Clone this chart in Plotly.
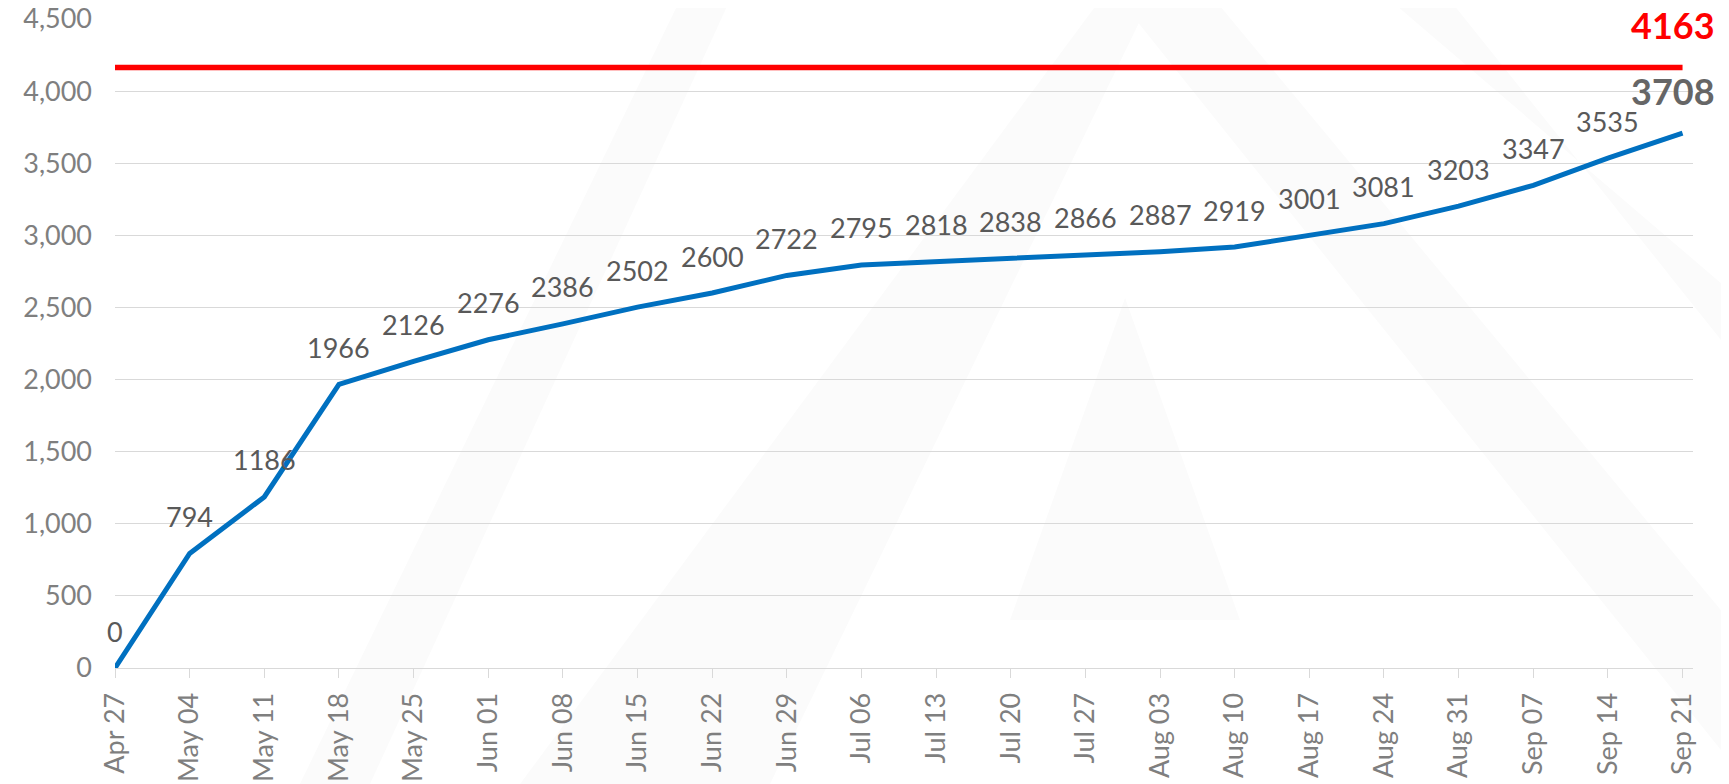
import plotly.graph_objects as go

weeks = ["Apr 27", "May 04", "May 11", "May 18", "May 25", "Jun 01", "Jun 08",
         "Jun 15", "Jun 22", "Jun 29", "Jul 06", "Jul 13", "Jul 20", "Jul 27",
         "Aug 03", "Aug 10", "Aug 17", "Aug 24", "Aug 31", "Sep 07", "Sep 14",
         "Sep 21"]
cumulative = [0, 794, 1186, 1966, 2126, 2276, 2386, 2502, 2600, 2722, 2795,
              2818, 2838, 2866, 2887, 2919, 3001, 3081, 3203, 3347, 3535, 3708]
target = 4163
y_ticks = [0, 500, 1000, 1500, 2000, 2500, 3000, 3500, 4000, 4500]

# the page body adds an 8px offset; figure sized so it ends at the window edge
OFF = 8
W, H = 1729 - OFF, 784 - OFF
L, R, T, B = 115 - OFF, 36, 19 - OFF, 116
FONT = "Lato, 'Open Sans', sans-serif"

fig = go.Figure()

# faint background watermark (decoration), given in window pixels
def px2paper(pts):
    pw = W - L - R
    ph = H - T - B
    path = ""
    for i, (x, y) in enumerate(pts):
        xp = (x - OFF - L) / pw
        yp = (H - B - (y - OFF)) / ph
        path += ("M" if i == 0 else "L") + f"{xp:.4f},{yp:.4f} "
    return path + "Z"

wm_polys = [
    [(300, 784), (370, 784), (730, 0), (680, 0)],
    [(520, 784), (770, 784), (1150, 0), (1100, 0)],
    [(1120, 0), (1215, 0), (1729, 620), (1729, 760)],
    [(1390, 0), (1450, 0), (1729, 350), (1729, 290)],
    [(1125, 298), (1010, 620), (1240, 620)],
]
for poly in wm_polys:
    fig.add_shape(type="path", path=px2paper(poly), xref="paper", yref="paper",
                  fillcolor="#fbfbfb", line=dict(width=0), layer="below")

fig.add_trace(go.Scatter(
    x=weeks, y=cumulative, mode="lines",
    line=dict(color="#0070c0", width=5), showlegend=False))

fig.add_trace(go.Scatter(
    x=[weeks[0], weeks[-1]], y=[target, target], mode="lines",
    line=dict(color="#ff0000", width=5.5), hoverinfo="skip", showlegend=False))

for i, (w, v) in enumerate(zip(weeks, cumulative)):
    last = i == len(weeks) - 1
    fig.add_annotation(
        x=w, y=v, text=f"<b>{v}</b>" if last else str(v), showarrow=False,
        yshift=42 if last else 37, xshift=-10 if last else 0, yanchor="middle",
        font=dict(family=FONT, size=36 if last else 27,
                  color="#666666" if last else "#595959"))

fig.add_annotation(
    x=weeks[-1], y=target, text=f"<b>{target}</b>", showarrow=False,
    yshift=43, xshift=-10, yanchor="middle",
    font=dict(family=FONT, size=36, color="#ff0000"))

fig.update_layout(
    width=W, height=H,
    margin=dict(l=L, r=R, t=T, b=B, autoexpand=False),
    paper_bgcolor="white", plot_bgcolor="rgba(0,0,0,0)",
    font=dict(family=FONT, color="#7f7f7f"),
    xaxis=dict(type="category", categoryorder="array", categoryarray=weeks,
               range=[0, 21.14], showgrid=False, automargin=False,
               showline=True, linecolor="#d9d9d9", linewidth=1,
               ticks="outside", ticklen=9, tickcolor="#d9d9d9", tickwidth=1,
               tickangle=-90, tickfont=dict(size=27, color="#7f7f7f"),
               ticklabelstandoff=4, ticklabeloverflow="allow"),
    yaxis=dict(range=[0, 4500], tickvals=y_ticks, tickformat=",",
               showgrid=True, gridcolor="#d9d9d9", gridwidth=1,
               zeroline=False, showline=False, ticks="", automargin=False,
               tickfont=dict(size=27, color="#7f7f7f"),
               ticklabelstandoff=22, ticklabeloverflow="allow"),
)

fig.write_html("out.html")
